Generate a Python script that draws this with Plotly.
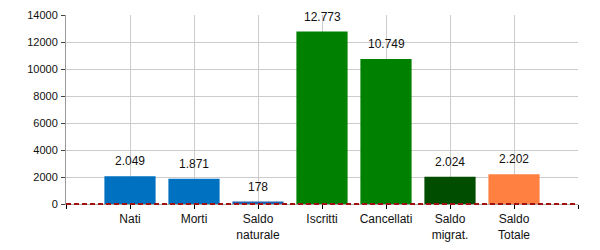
import plotly.graph_objects as go

categories = ["Nati", "Morti", "Saldo<br>naturale", "Iscritti", "Cancellati", "Saldo<br>migrat.", "Saldo<br>Totale"]
values = [2049, 1871, 178, 12773, 10749, 2024, 2202]
labels = ["2.049", "1.871", "178", "12.773", "10.749", "2.024", "2.202"]
colors = ["#0070C0", "#0070C0", "#1F5FB0", "#008000", "#008000", "#004D00", "#FF8040"]
y_ticks = [0, 2000, 4000, 6000, 8000, 10000, 12000, 14000]

xs = list(range(len(categories)))

fig = go.Figure()
fig.add_trace(go.Bar(x=xs, y=values, marker=dict(color=colors, line=dict(width=0)),
                     width=0.8, showlegend=False, hoverinfo="skip"))

for x, v, t in zip(xs, values, labels):
    fig.add_annotation(x=x, y=v, text=t, showarrow=False, yshift=15,
                       font=dict(family="Liberation Sans, Arial", size=12, color="#111"))

fig.add_shape(type="line", xref="paper", yref="paper", x0=0, x1=1, y0=0, y1=0,
              line=dict(color="#A01010", width=2, dash="5px,3px"), layer="above")

fig.update_layout(
    width=600, height=250,
    margin=dict(l=66, r=22, t=15, b=46),
    paper_bgcolor="white", plot_bgcolor="white",
    font=dict(family="Liberation Sans, Arial", size=12, color="#111"),
    bargap=0.2,
)
fig.update_xaxes(range=[-1, 7], tickmode="array", tickvals=list(range(-1, 8)),
                 ticktext=[""] + categories + [""], automargin=False,
                 showgrid=True, gridcolor="#CCCCCC", gridwidth=1,
                 ticks="outside", ticklen=4, tickcolor="#000", showline=True,
                 linecolor="#AAAAAA", zeroline=False, tickfont=dict(size=12))
fig.update_yaxes(range=[0, 14000], tickmode="array", tickvals=y_ticks,
                 ticktext=[str(v) for v in y_ticks], automargin=False,
                 showgrid=True, gridcolor="#CCCCCC", gridwidth=1,
                 ticks="outside", ticklen=4, tickcolor="#444", showline=True,
                 linecolor="#999", zeroline=False, tickfont=dict(size=11),
                 ticklabelstandoff=1)

fig.write_html("out.html")
